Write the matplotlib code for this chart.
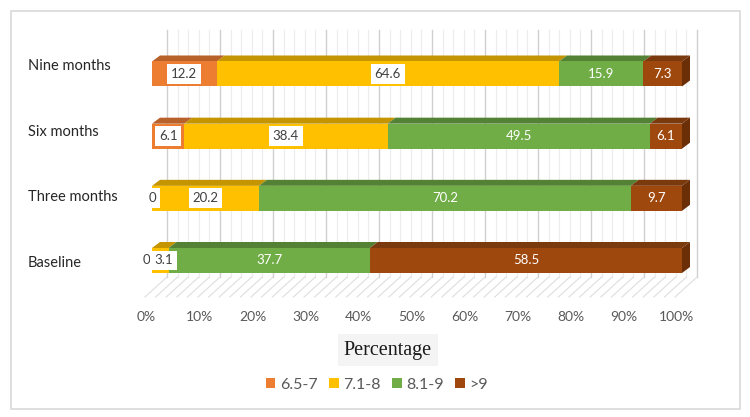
import numpy as np
import matplotlib
matplotlib.use("Agg")
from matplotlib import pyplot as plt
from matplotlib.patches import Polygon, Rectangle, Patch

# data
periods = ["Baseline", "Three months", "Six months", "Nine months"]
groups = ["6.5-7", "7.1-8", "8.1-9", ">9"]
g_65_7 = [0, 0, 6.1, 12.2]
g_71_8 = [3.1, 20.2, 38.4, 64.6]
g_81_9 = [37.7, 70.2, 49.5, 15.9]
g_gt9 = [58.5, 9.7, 6.1, 7.3]
tick_labels = ["0%", "10%", "20%", "30%", "40%", "50%", "60%", "70%", "80%", "90%", "100%"]

front_cols = ["#ED7D31", "#FFC000", "#70AD47", "#9E480E"]
top_cols = ["#B9612A", "#C49500", "#548235", "#7B3A0E"]
side_col = "#6B2F08"

plt.rcParams['font.family'] = ['Lato', 'DejaVu Sans']

fig = plt.figure(figsize=(7.5, 4.17), dpi=100)
ax = fig.add_axes([0, 0, 1, 1])
ax.axis("off")

# pixel geometry of the pseudo 3d box
px_pct = 5.3
px_row = 62.17
ax.set_xlim(-152 / px_pct, (750 - 152) / px_pct)
ax.set_ylim((260.5 - 417) / px_row, 260.5 / px_row)

bar_h = 25 / px_row
dep_x = 8 / px_pct
dep_y = 6 / px_row
wall_x = 15 / px_pct
floor_x = -7 / px_pct
wall_bot = (260.5 - 277) / px_row
wall_top = (260.5 - 30) / px_row
floor_front = (260.5 - 297) / px_row

# back wall grid + floor
for p in np.arange(0, 101, 2):
    major = p % 10 == 0
    ax.plot([p + wall_x, p + wall_x], [wall_bot, wall_top],
            color="#d0d0d0" if major else "#ececec", lw=1.0 if major else 0.8, zorder=1)
    ax.plot([p + wall_x, p + floor_x], [wall_bot, floor_front],
            color="#dedede", lw=0.8, zorder=1)

for i, t in enumerate(tick_labels):
    p = i * 10
    ax.text(p + floor_x + 0.3, (260.5 - 317) / px_row, t, ha="center", va="center",
            fontsize=10, color="#595959")

# bars
vals = np.array([g_65_7, g_71_8, g_81_9, g_gt9], dtype=float)
shares = vals / vals.sum(axis=0) * 100
nudge = {(0, 0): -1.0, (0, 1): 0.6}
for r in range(len(periods)):
    left = 0.0
    yb = r - bar_h / 2
    yt = r + bar_h / 2
    for k in range(len(groups)):
        w = shares[k, r]
        if w > 0:
            ax.barh(r, w, left=left, height=bar_h, color=front_cols[k], zorder=3)
            ax.add_patch(Polygon([(left, yt), (left + w, yt), (left + w + dep_x, yt + dep_y),
                                  (left + dep_x, yt + dep_y)], closed=True,
                                 facecolor=top_cols[k], edgecolor="none", zorder=2))
        xc = left + w / 2 + nudge.get((r, k), 0)
        if k < 2:
            ax.text(xc, r, f"{vals[k, r]:g}", ha="center", va="center", fontsize=9.5,
                    color="#404040", zorder=5,
                    bbox=dict(boxstyle="square,pad=0.3", fc="white", ec="none"))
        else:
            ax.text(xc, r, f"{vals[k, r]:g}", ha="center", va="center", fontsize=9.5,
                    color="white", zorder=5)
        left += w
    ax.add_patch(Polygon([(left, yb), (left, yt), (left + dep_x, yt + dep_y),
                          (left + dep_x, yb + dep_y)], closed=True,
                         facecolor=side_col, edgecolor="none", zorder=2))
    ax.text(-152 / px_pct + 28 / px_pct, r * 1.055 - 0.04, periods[r], ha="left", va="center",
            fontsize=10.5, color="#262626")

# axis title and legend
fig.text(388 / 750, 1 - 350 / 417, "Percentage", ha="center", va="center",
         fontsize=14.5, family="Liberation Serif", color="#1a1a1a",
         bbox=dict(boxstyle="square,pad=0.3", fc="#f4f4f4", ec="none"))

handles = [Patch(facecolor=c, edgecolor="none") for c in front_cols]
fig.legend(handles, groups, loc="center", bbox_to_anchor=(377 / 750, 1 - 385 / 417), ncol=4,
           frameon=False, fontsize=11.5, labelcolor="#595959", handlelength=0.6,
           handleheight=0.6, handletextpad=0.3, columnspacing=0.7)

fig.add_artist(Rectangle((11 / 750, 8 / 417), 729 / 750, 398 / 417, transform=fig.transFigure,
                         fill=False, ec="#d9d9d9", lw=1.2))

fig.savefig("out.png", dpi=100)
